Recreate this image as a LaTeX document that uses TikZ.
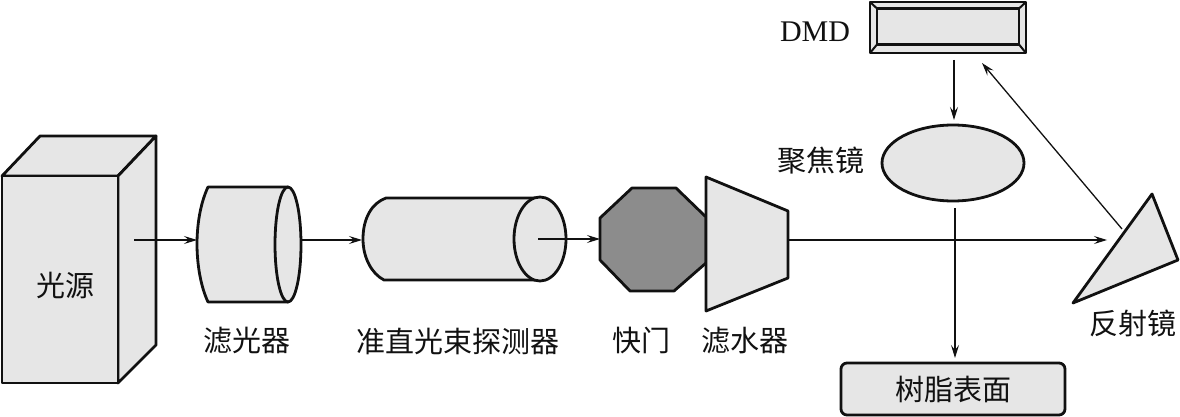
\documentclass[tikz,border=0pt]{standalone}
\usepackage{fontspec}
\setmainfont{Liberation Serif}
\newfontfamily\cjk{Noto Sans CJK SC}
\usetikzlibrary{arrows.meta,shapes.geometric}
\definecolor{partfill}{HTML}{E6E6E6}
\definecolor{darkfill}{HTML}{8C8C8C}
\definecolor{ink}{HTML}{111111}
\tikzset{
  part/.style={draw=ink,fill=partfill,line width=2.8pt,line join=round},
  darkpart/.style={draw=ink,fill=darkfill,line width=2.8pt,line join=round},
  beam/.style={draw=ink,line width=1.3pt,-{Stealth[length=13pt,width=8pt,inset=5pt]}},
  label/.style={font=\fontsize{29}{34}\selectfont\cjk,text=ink,inner sep=0pt,outer sep=0pt},
  latinlabel/.style={font=\fontsize{30}{34}\selectfont,text=ink,inner sep=0pt,outer sep=0pt},
  lens/.style={part,shape=ellipse,inner sep=0pt,outer sep=0pt},
}
\begin{document}
\begin{tikzpicture}[x=1pt,y=-1pt]
\useasboundingbox (0,0) rectangle (1180,417);
% light source
\draw[part] (2,176) -- (40,136) -- (156,136) -- (118,176) -- cycle;
\draw[part] (118,176) -- (156,136) -- (156,345) -- (118,383) -- cycle;
\node[part,rectangle,minimum width=116pt,minimum height=207pt,outer sep=0pt,inner sep=0pt] (source) at (60,279.5) {};
\node[label] (sourcelabel) at (65,285) {光源};
% filter cylinder
\draw[part] (208,187) -- (288,187) -- (288,302) -- (208,302)
  .. controls (200,285) and (197,262) .. (197,244)
  .. controls (197,226) and (200,204) .. (208,187) -- cycle;
\node[lens,minimum width=26pt,minimum height=115pt] (filterend) at (288,244.5) {};
\node[label] (filterlabel) at (247,341) {滤光器};
% collimator cylinder
\draw[part] (386,198) -- (540,198) -- (540,280) -- (384,280)
  .. controls (372,274) and (363,258) .. (363,239)
  .. controls (363,218) and (372,203) .. (386,198) -- cycle;
\node[lens,minimum width=52pt,minimum height=84pt] (collend) at (540,239) {};
\node[label] (colllabel) at (458,341) {准直光束探测器};
% shutter
\draw[darkpart] (600,218) -- (632,188) -- (676,188) -- (706,217) -- (706,263) -- (674,291) -- (630,291) -- (600,260) -- cycle;
\node[label] (shutterlabel) at (641,341) {快门};
% water filter
\draw[part] (706,177) -- (788,211) -- (788,278) -- (706,311) -- cycle;
\node[label] (waterlabel) at (745,341) {滤水器};
% mirror
\draw[part] (1152,194) -- (1178,260) -- (1073,303) -- cycle;
\node[label] (mirrorlabel) at (1133,323) {反射镜};
% DMD
\node[part,rectangle,minimum width=156pt,minimum height=51pt,inner sep=0pt,outer sep=0pt] (dmd) at (948,27.5) {};
\node[part,rectangle,minimum width=142pt,minimum height=36pt,inner sep=0pt,outer sep=0pt] (dmdinner) at (948,26.5) {};
\draw[draw=ink,line width=2pt] (dmd.north west) -- (dmdinner.north west) (dmd.north east) -- (dmdinner.north east)
  (dmd.south west) -- (dmdinner.south west) (dmd.south east) -- (dmdinner.south east);
\node[latinlabel] (dmdlabel) at (815,32) {DMD};
% focusing lens
\node[lens,minimum width=142pt,minimum height=76pt] (focus) at (953,163) {};
\node[label] (focuslabel) at (821,161) {聚焦镜};
% resin surface
\node[part,rectangle,rounded corners=6pt,minimum width=224pt,minimum height=52pt,inner sep=0pt,outer sep=0pt] (resin) at (953,389) {};
\node[label] (resinlabel) at (953,389) {树脂表面};
% beam end points
\coordinate (a0) at (134,240);
\coordinate (a1) at (197,240);
\coordinate (b0) at (302,240);
\coordinate (b1) at (362,240);
\coordinate (c0) at (538,239);
\coordinate (c1) at (600,239);
\coordinate (d0) at (788,240);
\coordinate (d1) at (1107,240);
\coordinate (e0) at (1122,229);
\coordinate (e1) at (982,63);
\coordinate (f0) at (954,60);
\coordinate (f1) at (954,120);
\coordinate (g0) at (955,208);
\coordinate (g1) at (955,358);
\draw[beam] (a0) -- (a1);
\draw[beam] (b0) -- (b1);
\draw[beam] (c0) -- (c1);
\draw[beam] (d0) -- (d1);
\draw[beam] (e0) -- (e1);
\draw[beam] (f0) -- (f1);
\draw[beam] (g0) -- (g1);
\end{tikzpicture}
\end{document}
